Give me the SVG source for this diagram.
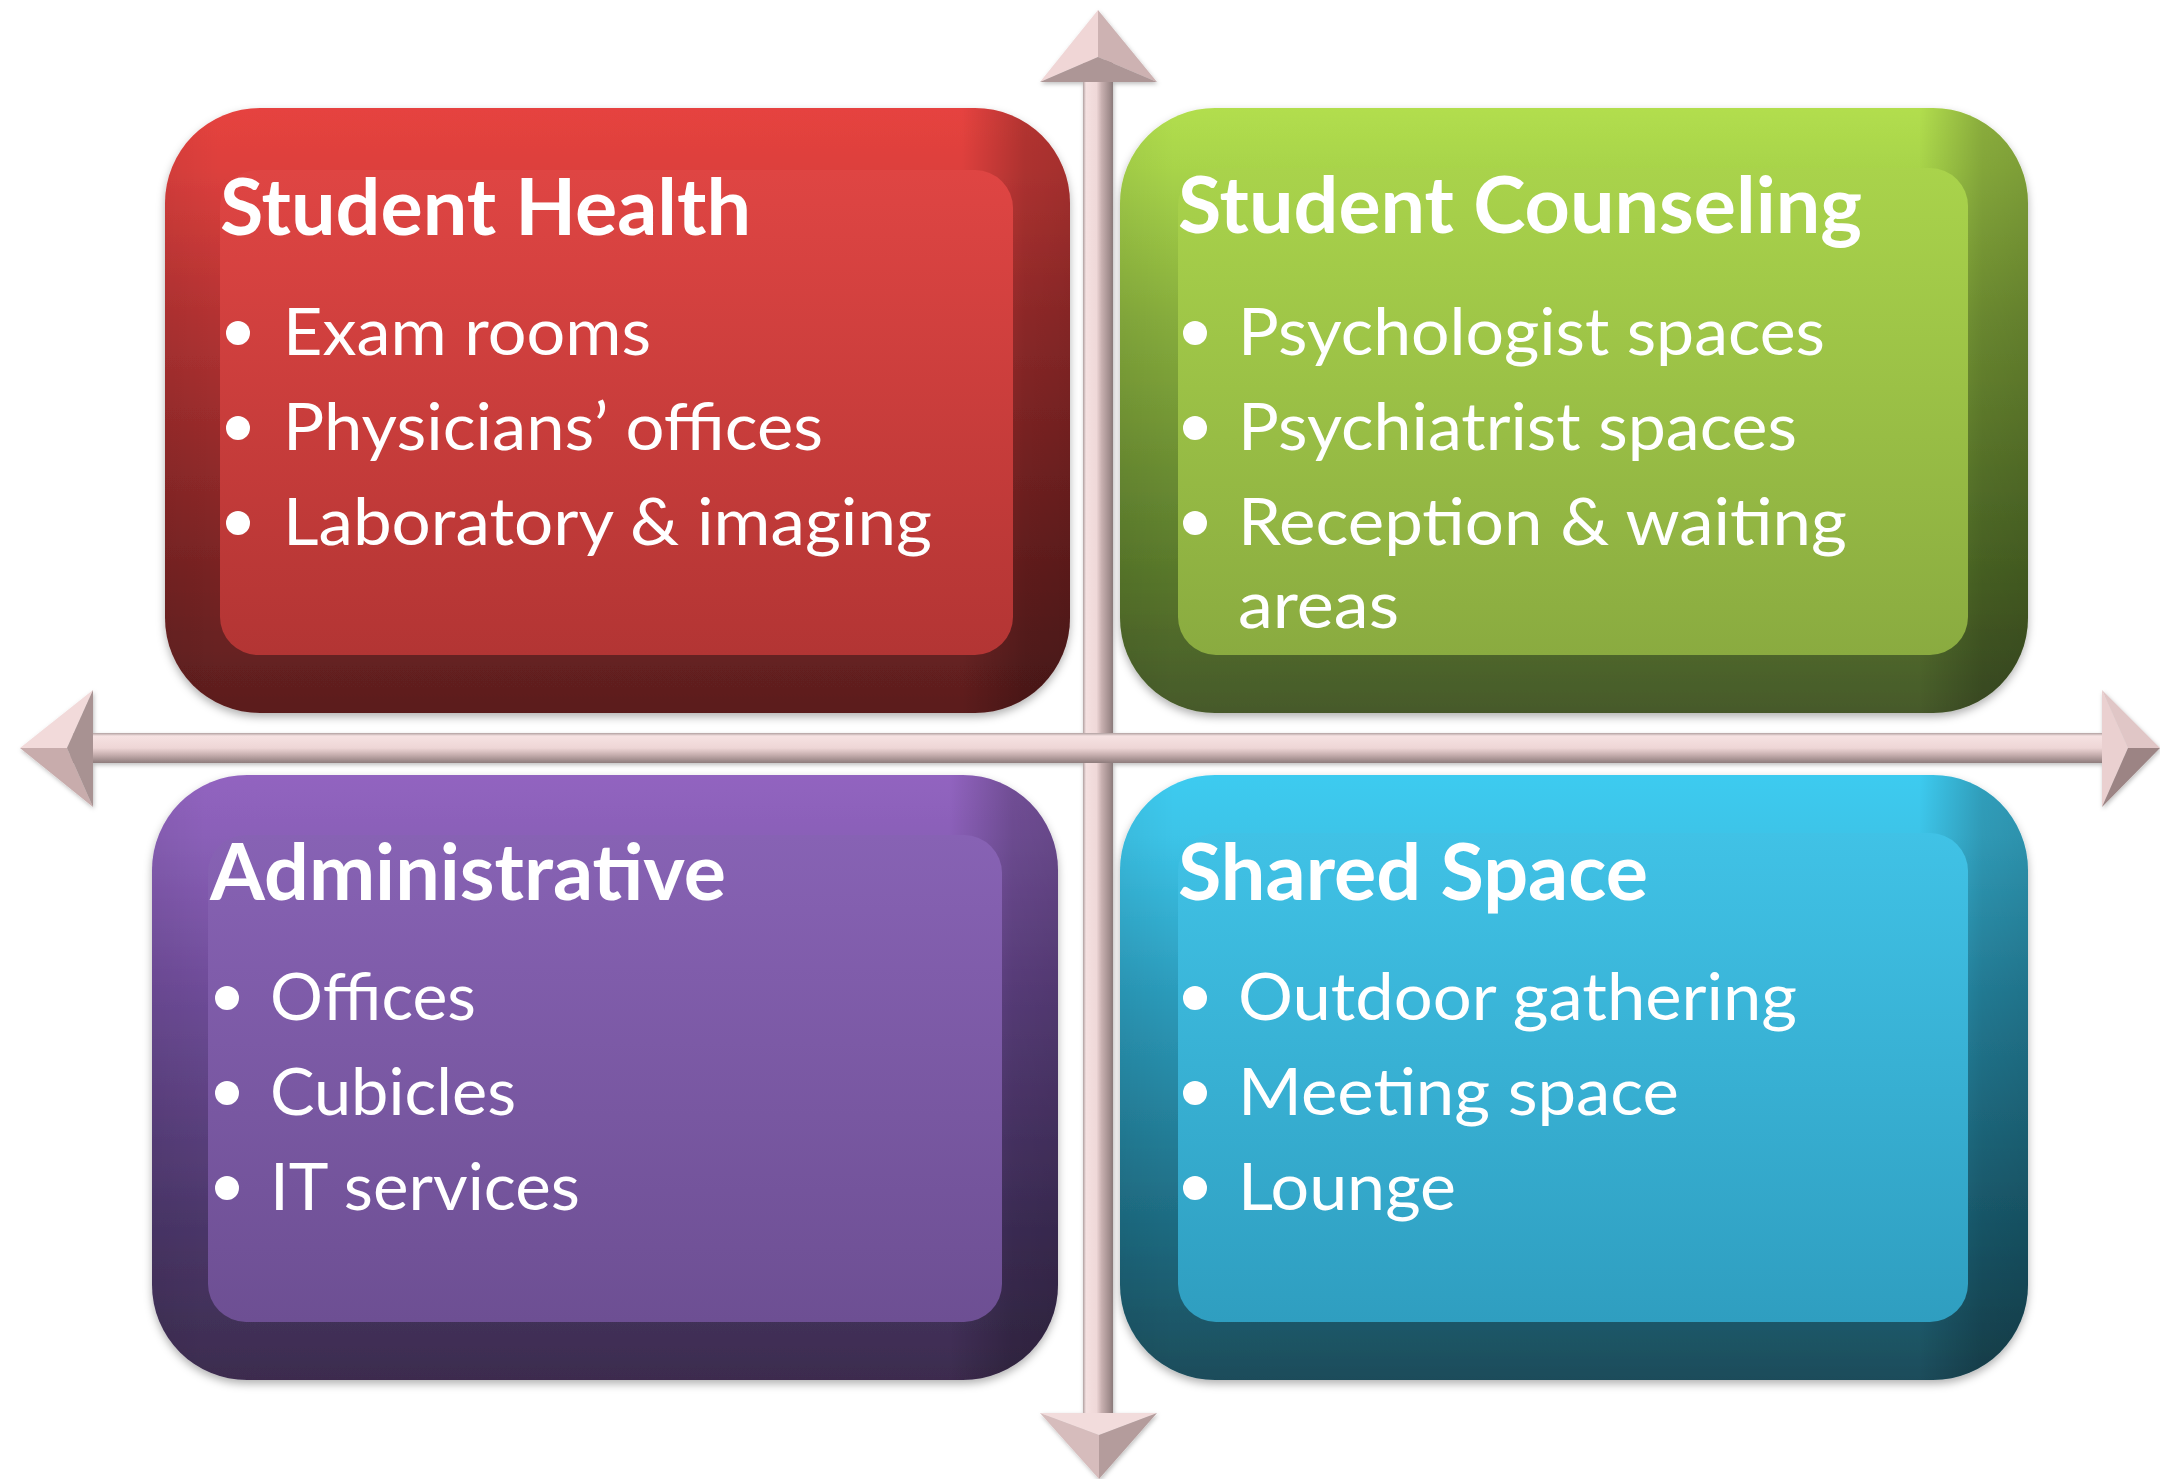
<svg xmlns="http://www.w3.org/2000/svg" width="2160" height="1479" viewBox="0 0 2160 1479">
<defs>
<style>
.title{font-family:Lato,"Open Sans","Liberation Sans",sans-serif;font-weight:bold;font-size:78px;fill:#fff}
.item{font-family:Lato,"Open Sans","Liberation Sans",sans-serif;font-size:66px;fill:#fff}
.dot{fill:#fff}
</style>
<filter id="sh" x="-5%" y="-5%" width="110%" height="115%">
<feDropShadow dx="0" dy="4" stdDeviation="4" flood-color="#000" flood-opacity="0.3"/>
</filter>
<filter id="ash" x="-5%" y="-5%" width="110%" height="110%">
<feDropShadow dx="1" dy="2" stdDeviation="2" flood-color="#000" flood-opacity="0.25"/>
</filter>
<linearGradient id="shade" x1="0" y1="0" x2="1" y2="0">
<stop offset="0" stop-color="#000" stop-opacity="0.05"/>
<stop offset="0.06" stop-color="#000" stop-opacity="0"/>
<stop offset="0.88" stop-color="#000" stop-opacity="0"/>
<stop offset="0.95" stop-color="#000" stop-opacity="0.22"/>
<stop offset="1" stop-color="#000" stop-opacity="0.26"/>
</linearGradient>
<linearGradient id="rO" x1="0" y1="0" x2="0" y2="1">
<stop offset="0" stop-color="#e6433f"/><stop offset="0.1" stop-color="#dd403d"/><stop offset="0.35" stop-color="#b23232"/><stop offset="0.75" stop-color="#7a2424"/><stop offset="1" stop-color="#5a1e1e"/>
</linearGradient>
<linearGradient id="rI" x1="0" y1="0" x2="0" y2="1">
<stop offset="0" stop-color="#df4543"/><stop offset="1" stop-color="#b33534"/>
</linearGradient>
<linearGradient id="gO" x1="0" y1="0" x2="0" y2="1">
<stop offset="0" stop-color="#b2de4e"/><stop offset="0.1" stop-color="#a8d44a"/><stop offset="0.35" stop-color="#86ac3c"/><stop offset="0.75" stop-color="#5a7a2c"/><stop offset="1" stop-color="#46592a"/>
</linearGradient>
<linearGradient id="gI" x1="0" y1="0" x2="0" y2="1">
<stop offset="0" stop-color="#a9d34b"/><stop offset="1" stop-color="#8aab40"/>
</linearGradient>
<linearGradient id="pO" x1="0" y1="0" x2="0" y2="1">
<stop offset="0" stop-color="#9264c0"/><stop offset="0.1" stop-color="#8a60b8"/><stop offset="0.35" stop-color="#6e4c98"/><stop offset="0.75" stop-color="#4a3668"/><stop offset="1" stop-color="#3c2c4e"/>
</linearGradient>
<linearGradient id="pI" x1="0" y1="0" x2="0" y2="1">
<stop offset="0" stop-color="#8762b4"/><stop offset="1" stop-color="#6d4f93"/>
</linearGradient>
<linearGradient id="cO" x1="0" y1="0" x2="0" y2="1">
<stop offset="0" stop-color="#3ecbf0"/><stop offset="0.1" stop-color="#3cc4e8"/><stop offset="0.35" stop-color="#2c9cbc"/><stop offset="0.75" stop-color="#1e6a80"/><stop offset="1" stop-color="#1b4c5a"/>
</linearGradient>
<linearGradient id="cI" x1="0" y1="0" x2="0" y2="1">
<stop offset="0" stop-color="#40c2e6"/><stop offset="1" stop-color="#2f9ec0"/>
</linearGradient>
<linearGradient id="vShaft" x1="0" y1="0" x2="1" y2="0">
<stop offset="0" stop-color="#b0a0a0"/><stop offset="0.1" stop-color="#f4e0e0"/><stop offset="0.45" stop-color="#efd8d8"/><stop offset="0.62" stop-color="#c8b0b0"/><stop offset="0.9" stop-color="#9e8a8a"/><stop offset="1" stop-color="#8a7a7a"/>
</linearGradient>
<linearGradient id="hShaft" x1="0" y1="0" x2="0" y2="1">
<stop offset="0" stop-color="#b0a0a0"/><stop offset="0.1" stop-color="#f6e2e2"/><stop offset="0.5" stop-color="#eed6d6"/><stop offset="0.72" stop-color="#c8b0b0"/><stop offset="1" stop-color="#8e7c7c"/>
</linearGradient>
</defs>
<rect width="2160" height="1479" fill="#fff"/>

<g id="connectors" filter="url(#ash)">
<rect x="1083" y="60" width="30" height="1360" fill="url(#vShaft)"/>
<rect x="70" y="733" width="2040" height="30" fill="url(#hShaft)"/>
<g id="arrow-up">
<polygon points="1098,10 1040,82 1098,57" fill="#f0d6d6"/>
<polygon points="1098,10 1098,57 1157,82" fill="#cdb2b2"/>
<polygon points="1040,82 1098,57 1157,82" fill="#ad9696"/>
</g>
<g id="arrow-down">
<polygon points="1040,1413 1099,1435 1157,1413" fill="#f2dcdc"/>
<polygon points="1040,1413 1099,1435 1099,1479" fill="#d6bcbc"/>
<polygon points="1099,1435 1157,1413 1099,1479" fill="#b49c9c"/>
</g>
<g id="arrow-left">
<polygon points="20,748 93,690 67,748" fill="#f2dada"/>
<polygon points="20,748 67,748 93,807" fill="#c8acac"/>
<polygon points="93,690 67,748 93,807" fill="#a89292"/>
</g>
<g id="arrow-right">
<polygon points="2102,690 2128,748 2102,807" fill="#ead0d0"/>
<polygon points="2102,690 2160,748 2128,748" fill="#e0c6c6"/>
<polygon points="2128,748 2160,748 2102,807" fill="#9c8484"/>
</g>
</g>

<g id="student-health">
<rect x="165" y="108" width="905" height="605" rx="95" fill="url(#rO)" filter="url(#sh)"/>
<rect x="165" y="108" width="905" height="605" rx="95" fill="url(#shade)"/>
<rect x="220" y="170" width="793" height="485" rx="38" fill="url(#rI)"/>
<text class="title" x="220" y="235" textLength="531" lengthAdjust="spacingAndGlyphs">Student Health</text>
<circle class="dot" cx="238" cy="333" r="12"/>
<text class="item" x="283" y="355" textLength="368" lengthAdjust="spacingAndGlyphs">Exam rooms</text>
<circle class="dot" cx="238" cy="428" r="12"/>
<text class="item" x="283" y="450" textLength="540" lengthAdjust="spacingAndGlyphs">Physicians’ offices</text>
<circle class="dot" cx="238" cy="523" r="12"/>
<text class="item" x="283" y="545" textLength="649" lengthAdjust="spacingAndGlyphs">Laboratory &amp; imaging</text>
</g>

<g id="student-counseling">
<rect x="1120" y="108" width="908" height="605" rx="95" fill="url(#gO)" filter="url(#sh)"/>
<rect x="1120" y="108" width="908" height="605" rx="95" fill="url(#shade)"/>
<rect x="1178" y="168" width="790" height="487" rx="38" fill="url(#gI)"/>
<text class="title" x="1178" y="233" textLength="684" lengthAdjust="spacingAndGlyphs">Student Counseling</text>
<circle class="dot" cx="1195" cy="333" r="12"/>
<text class="item" x="1238" y="355" textLength="587" lengthAdjust="spacingAndGlyphs">Psychologist spaces</text>
<circle class="dot" cx="1195" cy="428" r="12"/>
<text class="item" x="1238" y="450" textLength="559" lengthAdjust="spacingAndGlyphs">Psychiatrist spaces</text>
<circle class="dot" cx="1195" cy="523" r="12"/>
<text class="item" x="1238" y="545" textLength="609" lengthAdjust="spacingAndGlyphs">Reception &amp; waiting</text>
<text class="item" x="1238" y="628" textLength="161" lengthAdjust="spacingAndGlyphs">areas</text>
</g>

<g id="administrative">
<rect x="152" y="775" width="906" height="605" rx="95" fill="url(#pO)" filter="url(#sh)"/>
<rect x="152" y="775" width="906" height="605" rx="95" fill="url(#shade)"/>
<rect x="208" y="835" width="794" height="487" rx="38" fill="url(#pI)"/>
<text class="title" x="210" y="900" textLength="516" lengthAdjust="spacingAndGlyphs">Administrative</text>
<circle class="dot" cx="227" cy="998" r="12"/>
<text class="item" x="270" y="1020" textLength="206" lengthAdjust="spacingAndGlyphs">Offices</text>
<circle class="dot" cx="227" cy="1093" r="12"/>
<text class="item" x="270" y="1115" textLength="246" lengthAdjust="spacingAndGlyphs">Cubicles</text>
<circle class="dot" cx="227" cy="1188" r="12"/>
<text class="item" x="270" y="1210" textLength="310" lengthAdjust="spacingAndGlyphs">IT services</text>
</g>

<g id="shared-space">
<rect x="1120" y="775" width="908" height="605" rx="95" fill="url(#cO)" filter="url(#sh)"/>
<rect x="1120" y="775" width="908" height="605" rx="95" fill="url(#shade)"/>
<rect x="1178" y="833" width="790" height="489" rx="38" fill="url(#cI)"/>
<text class="title" x="1178" y="900" textLength="470" lengthAdjust="spacingAndGlyphs">Shared Space</text>
<circle class="dot" cx="1195" cy="998" r="12"/>
<text class="item" x="1238" y="1020" textLength="559" lengthAdjust="spacingAndGlyphs">Outdoor gathering</text>
<circle class="dot" cx="1195" cy="1093" r="12"/>
<text class="item" x="1238" y="1115" textLength="441" lengthAdjust="spacingAndGlyphs">Meeting space</text>
<circle class="dot" cx="1195" cy="1188" r="12"/>
<text class="item" x="1238" y="1210" textLength="218" lengthAdjust="spacingAndGlyphs">Lounge</text>
</g>
</svg>
